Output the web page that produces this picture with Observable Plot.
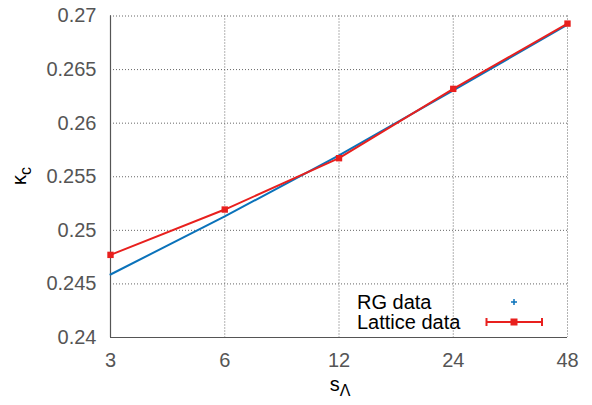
<!DOCTYPE html>
<html>
<head>
<meta charset="utf-8">
<script src="https://cdn.jsdelivr.net/npm/d3@7"></script>
<script src="https://cdn.jsdelivr.net/npm/@observablehq/plot@0.6"></script>
<style>
  body { margin: 0; background: #fff; }
  #chart svg { display: block; }
</style>
</head>
<body>
<div id="chart"></div>
<script>
const sLambda = [3, 6, 12, 24, 48];
const rgKappa = [0.24588, 0.25130, 0.25700, 0.26305, 0.26920];
const latticeKappa = [0.24771, 0.25194, 0.25673, 0.26320, 0.26929];
const xTicks = [3, 6, 12, 24, 48];
const yTicks = [0.24, 0.245, 0.25, 0.255, 0.26, 0.265, 0.27];
const yTickLabels = ["0.24", "0.245", "0.25", "0.255", "0.26", "0.265", "0.27"];
const seriesNames = ["RG data", "Lattice data"];
const colors = {rg: "#0a72ba", lat: "#e8201e"};

const rg = sLambda.map((s, i) => ({s, k: rgKappa[i]}));
const lat = sLambda.map((s, i) => ({s, k: latticeKappa[i]}));

const W = 592, H = 405;
const mL = 110, mR = 25, mT = 15.5, mB = 68;
const font = "'Liberation Sans', Arial, Helvetica, sans-serif";

const plot = Plot.plot({
  width: W, height: H,
  marginLeft: mL, marginRight: mR, marginTop: mT, marginBottom: mB,
  style: {fontFamily: font, background: "#fff"},
  x: {type: "log", domain: [3, 48]},
  y: {domain: [0.24, 0.27]},
  marks: [
    Plot.gridX(xTicks, {stroke: "#666", strokeOpacity: 1, strokeDasharray: "1,2"}),
    Plot.gridY(yTicks, {stroke: "#666", strokeOpacity: 1, strokeDasharray: "1,2"}),
    Plot.ruleX([3], {stroke: "#555", strokeWidth: 1.2}),
    Plot.ruleY([0.24], {stroke: "#555", strokeWidth: 1.2}),
    Plot.axisX({ticks: xTicks, tickFormat: d => String(d), tickSize: 0, tickPadding: 15,
      fontSize: 20, fill: "#555", label: null}),
    Plot.axisY({ticks: yTicks, tickFormat: d => yTickLabels[yTicks.indexOf(d)], tickSize: 0, tickPadding: 14,
      fontSize: 20, fill: "#555", label: null}),
    Plot.line(rg, {x: "s", y: "k", stroke: colors.rg, strokeWidth: 2}),
    Plot.dot(rg, {x: "s", y: "k", symbol: "plus", r: 3, fill: colors.rg}),
    Plot.line(lat, {x: "s", y: "k", stroke: colors.lat, strokeWidth: 2}),
    Plot.dot(lat, {x: "s", y: "k", symbol: "square", r: 3.6, fill: colors.lat})
  ]
});

const svg = d3.select(plot);
// axis labels
const yl = svg.append("text")
  .attr("transform", "translate(26,176) rotate(-90)")
  .attr("text-anchor", "middle")
  .style("font-family", font).style("font-size", "20px").attr("fill", "#000");
yl.append("tspan").text("κ");
yl.append("tspan").attr("baseline-shift", "-30%").style("font-size", "16px").text("c");

const xl = svg.append("text")
  .attr("x", 340).attr("y", 391)
  .attr("text-anchor", "middle")
  .style("font-family", font).style("font-size", "20px").attr("fill", "#000");
xl.append("tspan").text("s");
xl.append("tspan").attr("baseline-shift", "-30%").style("font-size", "16px").text("Λ");

// legend
const lg = svg.append("g").style("font-family", font).style("font-size", "20px").attr("text-anchor", "start");
lg.append("text").attr("x", 357).attr("y", 309).attr("text-anchor", "start").attr("fill", "#000").text(seriesNames[0]);
lg.append("text").attr("x", 357).attr("y", 329).attr("text-anchor", "start").attr("fill", "#000").text(seriesNames[1]);
lg.append("path").attr("d", "M511,302H517M514,299V305").attr("stroke", colors.rg).attr("stroke-width", 1.5);
lg.append("path").attr("d", "M486.5,322H542M486.5,318V326M542,318V326")
  .attr("stroke", colors.lat).attr("stroke-width", 2).attr("fill", "none");
lg.append("rect").attr("x", 510.5).attr("y", 318.5).attr("width", 7).attr("height", 7).attr("fill", colors.lat);

document.getElementById("chart").appendChild(plot);
</script>
</body>
</html>
